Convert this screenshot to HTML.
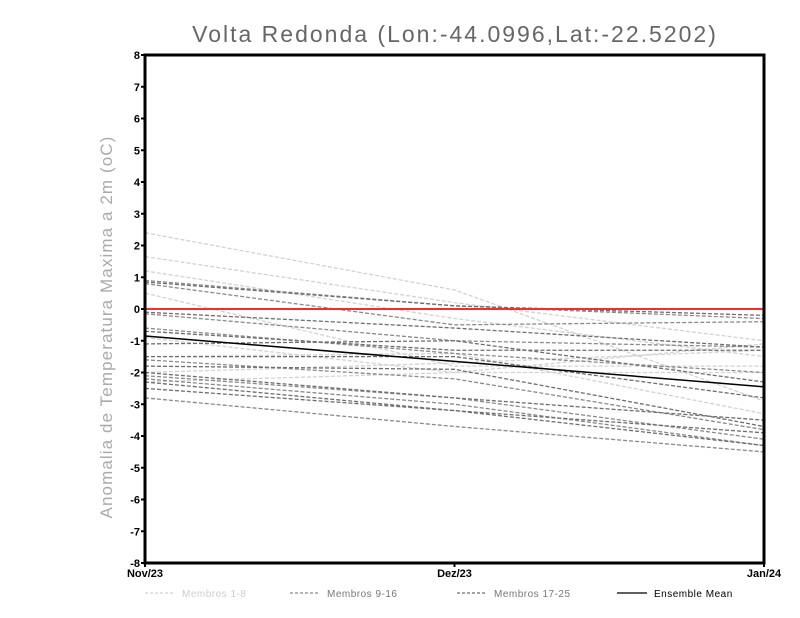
<!DOCTYPE html>
<html><head><meta charset="utf-8"><style>
body{margin:0;background:#fff;}
svg{display:block;font-family:"Liberation Sans",sans-serif;}
</style></head><body>
<svg id="chart" width="800" height="618">
<text x="455" y="42" text-anchor="middle" font-size="23" fill="#666" letter-spacing="2">Volta Redonda (Lon:-44.0996,Lat:-22.5202)</text>
<text transform="translate(112,327) rotate(-90)" text-anchor="middle" font-size="17" fill="#aaa" letter-spacing="1.1">Anomalia de Temperatura Maxima a 2m (oC)</text>
<g id="series"></g>
<g id="axes"></g>
<g id="legend" font-size="10" fill="#555"></g>
</svg>
<script>
const categories=["Nov/23","Dez/23","Jan/24"];
const yTicks=[-8,-7,-6,-5,-4,-3,-2,-1,0,1,2,3,4,5,6,7,8];
const membersA=[[2.4,0.6,-2.9],[1.65,0.2,-1.0],[1.2,-0.3,-1.5],[0.5,-1.8,-1.8],[-0.9,-2.0,-1.1],[-1.5,-1.4,-3.3],[-2.3,-2.0,-2.0],[-2.0,-1.7,-1.3]];
const membersB=[[0.9,0.1,-0.3],[0.8,-0.5,-0.4],[-0.15,-1.0,-1.2],[-0.6,-1.4,-2.0],[-1.6,-2.2,-3.8],[-2.1,-2.8,-4.1],[-2.2,-3.0,-4.3],[-2.8,-3.7,-4.5]];
const membersC=[[0.85,0.1,-0.2],[-0.1,-0.6,-1.2],[-0.7,-1.3,-1.3],[-1.5,-1.5,-2.8],[-1.8,-1.9,-3.7],[-2.0,-2.8,-3.5],[-2.3,-3.2,-3.9],[-2.5,-3.2,-4.3],[-1.1,-1.0,-2.3]];
const ensembleMean=[-0.85,-1.65,-2.45];
const legendLabels=["Membros 1-8","Membros 9-16","Membros 17-25","Ensemble Mean"];
const NS="http://www.w3.org/2000/svg";
const X0=145,X1=764,Y0=563,Y1=55;
const xs=i=>X0+(X1-X0)*i/(categories.length-1);
const ys=v=>Y0-(v+8)*(Y0-Y1)/16;
function mk(t,a,p){const e=document.createElementNS(NS,t);for(const k in a)e.setAttribute(k,a[k]);p.appendChild(e);return e;}
const sg=document.getElementById('series');
function drawLine(vals,stroke,dash,w,name){
 const p=mk('polyline',{points:vals.map((v,i)=>xs(i)+','+ys(v)).join(' '),fill:'none',stroke:stroke,'stroke-width':w,'stroke-dasharray':dash},sg);
 
 
}
membersA.forEach((m,i)=>drawLine(m,'#d2d2d2','4,2',1.3,'member-'+(i+1)));
membersB.forEach((m,i)=>drawLine(m,'#8a8a8a','4,2',1.3,'member-'+(i+9)));
membersC.forEach((m,i)=>drawLine(m,'#6e6e6e','4,2',1.3,'member-'+(i+17)));
const z=mk('line',{x1:X0,x2:X1,y1:ys(0),y2:ys(0),stroke:'#f03030','stroke-width':2},sg);


drawLine(ensembleMean,'#000','',1.5,'ensemble-mean-line');
const ag=document.getElementById('axes');
const fr=mk('rect',{x:X0,y:Y1,width:X1-X0,height:Y0-Y1,fill:'none',stroke:'#000','stroke-width':3},ag);


yTicks.forEach(t=>{
 mk('line',{x1:X0-4,x2:X0,y1:ys(t),y2:ys(t),stroke:'#000','stroke-width':2},ag);
 const tx=mk('text',{x:X0-5,y:ys(t)+4,'text-anchor':'end','font-size':11,'font-weight':'bold'},ag);
 tx.textContent=t;
 
 
});
categories.forEach((c,i)=>{
 mk('line',{x1:xs(i),x2:xs(i),y1:Y0,y2:Y0+4,stroke:'#000','stroke-width':2},ag);
 const tx=mk('text',{x:xs(i),y:Y0+14,'text-anchor':'middle','font-size':11,'font-weight':'bold'},ag);
 tx.textContent=c;
 
 
});
const lg=document.getElementById('legend');
const lstyles=[['#d2d2d2','3,2'],['#8a8a8a','3,2'],['#6e6e6e','3,2'],['#000','']];
const lx=[145,290,457,617];
legendLabels.forEach((l,i)=>{
 const g=mk('g',{},lg);
 
 
 mk('line',{x1:lx[i],x2:lx[i]+30,y1:593,y2:593,stroke:lstyles[i][0],'stroke-dasharray':lstyles[i][1],'stroke-width':1.2},g);
 const t=mk('text',{x:lx[i]+37,y:597,fill:i==0?'#ccc':(i==3?'#000':'#777'),'letter-spacing':'0.5'},g);
 t.textContent=l;
});
</script>
</body></html>
